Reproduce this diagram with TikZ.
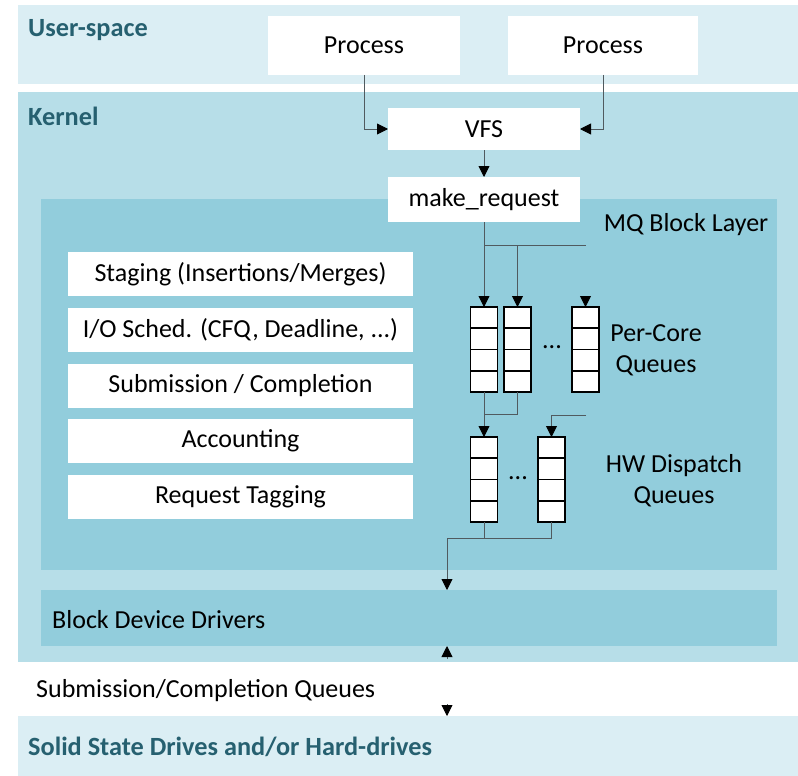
\documentclass[tikz,border=0pt]{standalone}
\usepackage{fontspec}
\setmainfont{Carlito}
\usetikzlibrary{arrows.meta,calc}

\definecolor{userbg}{RGB}{219,238,244}
\definecolor{kernbg}{RGB}{183,222,232}
\definecolor{mqbg}{RGB}{146,205,220}
\definecolor{headc}{RGB}{38,96,112}
\definecolor{linec}{RGB}{80,90,95}

\tikzset{
  band/.style={fill=#1, draw=none, inner sep=0pt, outer sep=0pt},
  wbox/.style={fill=white, draw=none, inner sep=0pt, outer sep=0pt,
    font=\fontsize{26}{31}\selectfont},
  head/.style={font=\fontsize{26.3}{31}\selectfont\bfseries, text=headc,
    anchor=west, inner sep=0pt},
  plain/.style={font=\fontsize{26}{31}\selectfont, inner sep=0pt},
  queue/.style={draw=black, fill=white, line width=1.6pt,
    minimum width=27pt, minimum height=85pt, inner sep=0pt, outer sep=0pt},
  conn/.style={draw=linec, line width=0.9pt,
    -{Triangle[width=11pt,length=11pt,fill=black,color=black]}},
  wire/.style={draw=linec, line width=0.9pt},
}

\begin{document}
\begin{tikzpicture}[x=1pt,y=-1pt]
\useasboundingbox (0,0) rectangle (798,776);
\fill[white] (0,0) rectangle (798,776);

% layers
\node[band=userbg, minimum width=780pt, minimum height=79pt] (user) at (408,45) {};
\node[band=kernbg, minimum width=780pt, minimum height=570pt] (kernel) at (408,377) {};
\node[band=mqbg, minimum width=736pt, minimum height=371pt] (mq) at (409,384.5) {};
\node[band=mqbg, minimum width=736pt, minimum height=56pt] (bdd) at (409,618) {};
\node[band=userbg, minimum width=780pt, minimum height=60pt] (ssd) at (408,746) {};

% layer titles
\node[head] (tuser) at (28,30) {User-space};
\node[head] (tkern) at (28,116) {Kernel};
\node[head] (tssd) at (28,747) {Solid State Drives and/or Hard-drives};
\node[plain, anchor=west] (tbdd) at (52,619.5) {Block Device Drivers};
\node[plain] (tmq) at (686,225) {MQ Block Layer};
\node[plain, align=center, font=\fontsize{26}{31}\selectfont] (tpc) at (656,350) {Per-Core\\Queues};
\node[plain, align=center, font=\fontsize{26}{31}\selectfont] (thw) at (674,481) {HW Dispatch\\Queues};
\node[plain, anchor=west] (tsq) at (36,691) {Submission/Completion Queues};

% processes and upper kernel boxes
\node[wbox, minimum width=192pt, minimum height=59pt] (p1) at (364,45.5) {Process};
\node[wbox, minimum width=190pt, minimum height=59pt] (p2) at (603,45.5) {Process};
\node[wbox, minimum width=192pt, minimum height=42pt] (vfs) at (484,129) {VFS};
\node[wbox, minimum width=192pt, minimum height=45pt] (mr) at (484,199.5) {make\_request};

% block layer functions
\node[wbox, minimum width=345pt, minimum height=44pt] (f1) at (240.5,274) {Staging (Insertions/Merges)};
\node[wbox, minimum width=345pt, minimum height=44pt] (f2) at (240.5,330) {I/O Sched. (CFQ, Deadline, ...)};
\node[wbox, minimum width=345pt, minimum height=44pt] (f3) at (240.5,385.5) {Submission / Completion};
\node[wbox, minimum width=345pt, minimum height=44pt] (f4) at (240.5,441) {Accounting};
\node[wbox, minimum width=345pt, minimum height=44pt] (f5) at (240.5,497) {Request Tagging};

% queues
\foreach \n/\x/\y in {q1/484/349.5, q2/517.5/349.5, q3/585.5/349.5, h1/484/479.5, h2/551.5/479.5}{
  \node[queue] (\n) at (\x,\y) {};
  \foreach \k in {1,2,3}{
    \draw[line width=1.6pt] ($(\n.north west)!\k/4!(\n.south west)$) -- ($(\n.north east)!\k/4!(\n.south east)$);
  }
}
\node[plain] (dq) at (552,347) {...};
\node[plain] (dh) at (518,478) {...};

% user to kernel
\draw[conn] (p1.south) |- (vfs.west);
\draw[conn] (p2.south) |- (vfs.east);
\draw[conn] (vfs.south) -- (mr.north);

% fan-out to per-core queues
\coordinate (s1) at (484,245);
\coordinate (s2) at (517.5,245);
\coordinate (s3) at (586,245);
\coordinate (q3in) at (585.5,296);
\draw[conn] (mr.south) -- (q1.north);
\draw[wire] (s1) -- (s3);
\draw[conn] (s2) -- (q2.north);
\draw[conn] (q3in) -- (q3.north);

% per-core to hardware dispatch queues
\coordinate (j1) at (484,414.5);
\coordinate (j2) at (586,415);
\draw[conn] (q1.south) -- (h1.north);
\draw[wire] (q2.south) |- (j1);
\draw[conn] (j2) -| (h2.north);

% hardware queues to drivers
\coordinate (m1) at (447,538);
\draw[wire] (h1.south) -- (h1.south |- m1);
\draw[conn] (h2.south) |- (m1) -- (m1 |- bdd.north);

% drivers to devices
\coordinate (up0) at (447,659);
\coordinate (dn0) at (447,704);
\draw[conn] (up0) -- (m1 |- bdd.south);
\draw[conn] (dn0) -- (m1 |- ssd.north);
\end{tikzpicture}
\end{document}
